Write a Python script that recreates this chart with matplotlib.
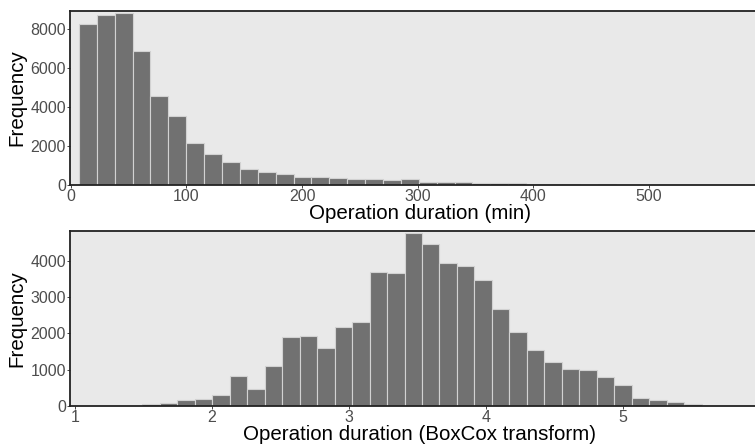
import numpy as np
import matplotlib
matplotlib.use("Agg")
import matplotlib.pyplot as plt

plt.rcParams['font.family'] = ['Liberation Sans', 'DejaVu Sans']

# operation duration in minutes: bins of ~15.5 min starting at ~7
dur_start = 6.9
dur_width = 15.48
dur_counts = [8260, 8740, 8845, 6900, 4600, 3550, 2155, 1570, 1170, 830,
              670, 550, 420, 420, 350, 315, 300, 280, 290, 170,
              140, 140, 120, 120, 90, 50, 50, 35, 10, 35,
              0, 0, 20]

# BoxCox transformed duration
bc_start = 1.49
bc_width = 0.1276
bc_counts = [60, 80, 165, 195, 295, 815, 460, 1100, 1905, 1930,
             1600, 2180, 2310, 3690, 3670, 4770, 4470, 3950, 3860, 3475,
             2660, 2040, 1550, 1210, 1015, 1000, 795, 565, 230, 165,
             120, 55]

dur_ticks = [0, 100, 200, 300, 400, 500]
dur_yticks = [0, 2000, 4000, 6000, 8000]
bc_ticks = [1, 2, 3, 4, 5]
bc_yticks = [0, 1000, 2000, 3000, 4000]

W, H = 755, 444
# panels run a little past the right edge of the picture (cropped)
AW = 700
fig = plt.figure(figsize=(W / 100, H / 100), dpi=100)
ax1 = fig.add_axes([70 / W, 1 - 185 / H, AW / W, 174 / H])
ax2 = fig.add_axes([70 / W, 1 - 406 / H, AW / W, 175 / H])


def style(ax):
    ax.set_facecolor('#e9e9e9')
    ax.spines['right'].set_visible(False)
    for s in ['left', 'bottom', 'top']:
        ax.spines[s].set_color('#222222')
        ax.spines[s].set_linewidth(1.3)
    ax.tick_params(axis='both', colors='#444444', labelcolor='#4d4d4d',
                   labelsize=11.5, length=2, width=0.7, pad=1)
    ax.grid(False)


def draw(ax, start, width, counts):
    edges = start + width * np.arange(len(counts) + 1)
    ax.hist(edges[:-1], bins=edges, weights=counts, color='#717171',
            edgecolor='#d2d2d2', linewidth=0.8)


draw(ax1, dur_start, dur_width, dur_counts)
style(ax1)
ax1.set_xlim(-0.8, 605)
ax1.set_ylim(0, 8950)
ax1.set_xticks(dur_ticks)
ax1.set_yticks(dur_yticks)
ax1.set_xlabel('Operation duration (min)', fontsize=14.8, labelpad=0)
ax1.set_ylabel('Frequency', fontsize=14.8)
ax1.yaxis.set_label_coords(-44 / AW, 0.5)

draw(ax2, bc_start, bc_width, bc_counts)
style(ax2)
ax2.set_xlim(0.964, 6.07)
ax2.set_ylim(0, 4820)
ax2.set_xticks(bc_ticks)
ax2.set_yticks(bc_yticks)
ax2.set_xlabel('Operation duration (BoxCox transform)', fontsize=14.8, labelpad=0)
ax2.set_ylabel('Frequency', fontsize=14.8)
ax2.yaxis.set_label_coords(-44 / AW, 0.5)

fig.savefig('out.png', dpi=100)
